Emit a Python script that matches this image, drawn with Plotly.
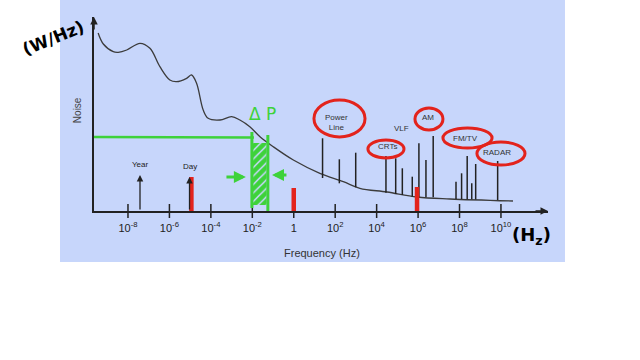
import plotly.graph_objects as go

# ---- data (x = log10 of frequency in Hz, y = noise level, arbitrary units) ----
curve_exp = [-9.44, -9.19, -8.71, -8.47, -8.06, -7.42, -6.94, -6.46, -5.98, -5.65, -5.17, -4.93,
             -4.69, -4.37, -4.13, -3.56, -3.00, -2.60, -2.12, -1.63, -0.99, -0.02, 1.26, 2.39,
             3.19, 4.50, 5.95, 7.54, 10.58]
curve_noise = [178, 167, 159.3, 158.7, 161, 167.7, 162.7, 144.3, 131, 129.3, 132.7, 136,
               127.7, 101, 92.7, 91, 94.3, 91, 84.3, 74.3, 64.3, 51, 37.7, 29.3,
               22.7, 19, 14, 12, 10]

line_exp = [1.39, 2.20, 2.99, 4.45, 4.92, 5.24, 5.72, 6.04, 6.38, 6.73, 7.83, 8.10, 8.37, 8.59, 8.78, 9.84]
line_top = [72.7, 51.7, 58.3, 55, 52.7, 42.7, 34.3, 67.7, 51, 75, 29.3, 37.7, 55, 27.7, 47, 50]
line_base = [33, 27.7, 23.7, 18.3, 17, 16, 14.3, 13.7, 13.7, 13.7, 12, 12, 11.7, 11.7, 11.5, 11]

source_labels = ["Power<br>Line", "CRTs", "VLF", "AM", "FM/TV", "RADAR"]
source_label_exp = [2.08, 4.50, 5.22, 6.48, 8.31, 9.81]
source_label_y = [89, 65, 83, 94, 73, 59]
circled = ["Power<br>Line", "CRTs", "AM", "FM/TV", "RADAR"]
circle_x0 = [0.975, 3.58, 5.85, 7.20, 8.84]
circle_x1 = [3.44, 5.32, 7.20, 9.57, 11.16]
circle_y0 = [74, 53, 81, 63, 46]
circle_y1 = [111, 71, 103, 83, 69]

period_labels = ["Year", "Day"]
period_exp = [-7.42, -5.03]
period_top = [36, 34]

tick_exp = [-8, -6, -4, -2, 0, 2, 4, 6, 8, 10]
tick_text = ["10<sup>-8</sup>", "10<sup>-6</sup>", "10<sup>-4</sup>", "10<sup>-2</sup>", "1",
             "10<sup>2</sup>", "10<sup>4</sup>", "10<sup>6</sup>", "10<sup>8</sup>", "10<sup>10</sup>"]

red_mark_exp = [-4.94, 0.0, 5.95]
red_mark_lo = [0, -7, 0]
red_mark_hi = [34, 23, 24]

band_lo_exp, band_hi_exp = -2.02, -1.25
band_level = 74

X_RANGE = [-9.64, 12.27]
Y_RANGE = [0, 194]
INK = "#222222"
RED = "#e3231c"
GREEN = "#3ed23a"
BLUE_BG = "#c7d6fb"
FONT = "Liberation Sans, Arial, sans-serif"

fig = go.Figure()

# noise curve
fig.add_trace(go.Scatter(x=curve_exp, y=curve_noise, mode="lines",
                         line=dict(color="#3c3c3c", width=1.3, shape="spline", smoothing=1.0),
                         hoverinfo="skip"))

# spectral lines
lx, ly = [], []
for e, t, b in zip(line_exp, line_top, line_base):
    lx += [e, e, None]
    ly += [b, t, None]
fig.add_trace(go.Scatter(x=lx, y=ly, mode="lines", line=dict(color=INK, width=1.5), hoverinfo="skip"))

# tick marks crossing the axis
fig.add_trace(go.Scatter(x=tick_exp, y=[0] * len(tick_exp), mode="markers", cliponaxis=False,
                         marker=dict(symbol="line-ns", size=10, line=dict(color=INK, width=1.5)),
                         hoverinfo="skip"))

# green band (hatched)
fig.add_trace(go.Scatter(x=[band_lo_exp + 0.04, band_hi_exp - 0.06, band_hi_exp - 0.06, band_lo_exp + 0.04, band_lo_exp + 0.04],
                         y=[6, 6, 68, 68, 6], mode="none", fill="toself",
                         fillcolor="rgba(0,0,0,0)",
                         fillpattern=dict(shape="/", fgcolor=GREEN, bgcolor="rgba(0,0,0,0)",
                                          size=6, solidity=0.75, fgopacity=1),
                         hoverinfo="skip"))
fig.add_trace(go.Scatter(x=[X_RANGE[0], band_lo_exp + 0.1], y=[band_level, band_level - 0.5], mode="lines",
                         line=dict(color=GREEN, width=2.5), hoverinfo="skip", cliponaxis=False))
fig.add_trace(go.Scatter(x=[band_lo_exp, band_lo_exp, None, band_hi_exp, band_hi_exp],
                         y=[3, 79, None, -2, 76], mode="lines",
                         line=dict(color=GREEN, width=3), hoverinfo="skip", cliponaxis=False))

# red marks
rx, ry = [], []
for e, lo, hi in zip(red_mark_exp, red_mark_lo, red_mark_hi):
    rx += [e, e, None]
    ry += [lo, hi, None]
fig.add_trace(go.Scatter(x=rx, y=ry, mode="lines", line=dict(color=RED, width=4.5),
                         hoverinfo="skip", cliponaxis=False))

# background panel
fig.add_shape(type="rect", xref="paper", yref="paper", x0=-0.0749, x1=1.0374, y0=-0.2629, y1=1.0876,
              fillcolor=BLUE_BG, line=dict(width=0), layer="below")

# red circles
for x0, x1, y0, y1 in zip(circle_x0, circle_x1, circle_y0, circle_y1):
    fig.add_shape(type="circle", xref="x", yref="y", x0=x0, x1=x1, y0=y0, y1=y1,
                  line=dict(color=RED, width=3))

ann = []
for t, e, y in zip(source_labels, source_label_exp, source_label_y):
    ann.append(dict(x=e, y=y, text=t, showarrow=False, font=dict(size=8, color="#333333", family=FONT)))
for t, e, y in zip(period_labels, period_exp, period_top):
    ann.append(dict(x=e, y=y + 11, text=t, showarrow=False, font=dict(size=8, color="#222222", family=FONT)))
    ann.append(dict(x=e, y=y, ax=e, ay=0, axref="x", ayref="y", text="", showarrow=True,
                    arrowhead=2, arrowsize=1, arrowwidth=1.3, arrowcolor=INK))
# axis arrows
ann.append(dict(x=X_RANGE[1], y=0, ax=-14, ay=0, text="", showarrow=True, arrowhead=2,
                arrowsize=1, arrowwidth=1.5, arrowcolor=INK))
ann.append(dict(x=X_RANGE[0], y=Y_RANGE[1], ax=0, ay=14, text="", showarrow=True, arrowhead=2,
                arrowsize=1, arrowwidth=1.5, arrowcolor=INK))
# green arrows and delta P
ann.append(dict(x=-2.31, y=34, ax=-3.32, ay=34, axref="x", ayref="y", text="", showarrow=True,
                arrowhead=2, arrowsize=0.8, arrowwidth=3, arrowcolor=GREEN))
ann.append(dict(x=-1.05, y=36, ax=-0.28, ay=36, axref="x", ayref="y", text="", showarrow=True,
                arrowhead=2, arrowsize=0.8, arrowwidth=3, arrowcolor=GREEN))
ann.append(dict(x=-1.5, y=97, text="Δ P", showarrow=False,
                font=dict(size=17, color=GREEN, family="DejaVu Sans")))
# axis titles
C = dict(xref="paper", yref="paper", xanchor="center", yanchor="middle", showarrow=False)
ann.append(dict(x=-0.0374, y=0.52, text="Noise", textangle=-90,
                font=dict(size=10, color="#444444", family=FONT), **C))
ann.append(dict(x=0.502, y=-0.216, text="Frequency (Hz)",
                font=dict(size=11, color="#333333", family=FONT), **C))
# handwritten units
ann.append(dict(x=-0.09, y=0.892, text="<b>(W/Hz)</b>", textangle=-22,
                font=dict(size=17, color="#000000", family="DejaVu Sans"), **C))
ann.append(dict(x=0.9626, y=-0.129, text="<b>(H<sub>z</sub>)</b>",
                font=dict(size=18, color="#000000", family="DejaVu Sans"), **C))

fig.update_layout(
    width=640, height=360,
    margin=dict(l=94, r=92, t=17, b=149),
    paper_bgcolor="white", plot_bgcolor="rgba(0,0,0,0)",
    showlegend=False, annotations=ann,
    xaxis=dict(range=X_RANGE, showgrid=False, zeroline=False, showline=True, linecolor=INK, linewidth=1.5,
               tickvals=tick_exp, ticktext=tick_text, ticks="", ticklabelstandoff=6,
               tickfont=dict(size=11, color="#222222", family=FONT), fixedrange=True),
    yaxis=dict(range=Y_RANGE, showgrid=False, zeroline=False, showline=True, linecolor=INK, linewidth=1.5,
               showticklabels=False, ticks="", fixedrange=True),
)

fig.write_html("out.html")
